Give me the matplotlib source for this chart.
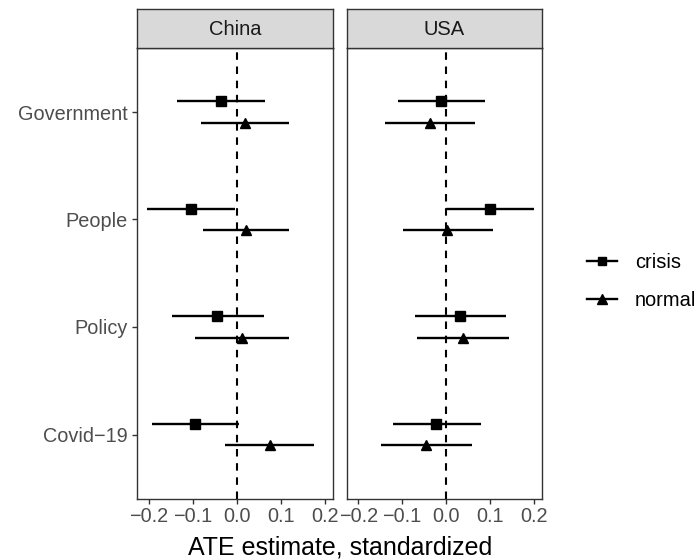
import matplotlib.pyplot as plt
from matplotlib.lines import Line2D

plt.rcParams['font.family'] = ['Liberation Sans', 'DejaVu Sans']

# data
countries = ['China', 'USA']
outcomes = ['Covid\u221219', 'Policy', 'People', 'Government']  # bottom to top
groups = ['crisis', 'normal']

est = {
    ('China', 'crisis'): [-0.094, -0.045, -0.104, -0.036],
    ('China', 'normal'): [0.075, 0.011, 0.020, 0.018],
    ('USA', 'crisis'): [-0.023, 0.032, 0.101, -0.011],
    ('USA', 'normal'): [-0.045, 0.040, 0.003, -0.036],
}
lo = {
    ('China', 'crisis'): [-0.194, -0.148, -0.205, -0.136],
    ('China', 'normal'): [-0.027, -0.096, -0.077, -0.081],
    ('USA', 'crisis'): [-0.120, -0.070, 0.001, -0.109],
    ('USA', 'normal'): [-0.148, -0.067, -0.098, -0.138],
}
hi = {
    ('China', 'crisis'): [0.006, 0.063, -0.003, 0.065],
    ('China', 'normal'): [0.177, 0.118, 0.118, 0.118],
    ('USA', 'crisis'): [0.079, 0.136, 0.201, 0.090],
    ('USA', 'normal'): [0.059, 0.145, 0.107, 0.067],
}
xticks = [-0.2, -0.1, 0.0, 0.1, 0.2]
xticklabels = ['\u22120.2', '\u22120.1', '0.0', '0.1', '0.2']

markers = {'crisis': 's', 'normal': '^'}
msizes = {'crisis': 6.5, 'normal': 7.5}
offsets = {'crisis': 0.1, 'normal': -0.1}

W, H = 697, 560
fig = plt.figure(figsize=(W / 100, H / 100), dpi=100)

panels = [(137.3, 333.3), (346.7, 542.3)]
top, bottom = 47.5, 499
strip_top = 9

txt_col = '#4D4D4D'

for i, c in enumerate(countries):
    x0, x1 = panels[i]
    ax = fig.add_axes([x0 / W, 1 - bottom / H, (x1 - x0) / W, (bottom - top) / H])
    ax.axvline(0, color='black', lw=1.5, ls=(0, (3.6, 3.2)), zorder=1)
    for g in groups:
        ys = [k + 1 + offsets[g] for k in range(len(outcomes))]
        e = est[(c, g)]
        ax.hlines(ys, lo[(c, g)], hi[(c, g)], color='black', lw=1.7, zorder=2)
        ax.plot(e, ys, ls='none', marker=markers[g], ms=msizes[g],
                color='black', zorder=3)
    ax.set_xlim(-0.2265, 0.2200)
    ax.set_ylim(0.4, 4.6)
    ax.set_xticks(xticks)
    ax.set_xticklabels(xticklabels)
    ax.set_yticks(range(1, len(outcomes) + 1))
    ax.tick_params(axis='both', labelsize=14.3, colors='#333333', labelcolor=txt_col,
                   length=3.5, width=1.0, pad=2)
    ax.tick_params(axis='y', pad=3.5)
    if i == 0:
        ax.set_yticklabels(outcomes)
    else:
        ax.tick_params(axis='y', length=0, labelleft=False)
    for s in ax.spines.values():
        s.set_color('#333333')
        s.set_linewidth(1.0)

    # facet strip
    sax = fig.add_axes([x0 / W, 1 - top / H, (x1 - x0) / W, (top - strip_top) / H])
    sax.set_facecolor('#D9D9D9')
    sax.set_xticks([])
    sax.set_yticks([])
    for s in sax.spines.values():
        s.set_color('#333333')
        s.set_linewidth(1.0)
    sax.text(0.5, 0.48, c, ha='center', va='center', fontsize=14.5,
             color='#1A1A1A', transform=sax.transAxes)

fig.text(340 / W, 1 - 547 / H, 'ATE estimate, standardized', ha='center',
         va='center', fontsize=18, color='black')

handles = [Line2D([], [], color='black', lw=1.7, marker=markers[g], ms=msizes[g] - 0.5)
           for g in groups]
fig.legend(handles, groups, loc='center left', bbox_to_anchor=(569 / W, 1 - 281 / H),
           frameon=False, fontsize=14.4, handlelength=1.5, handletextpad=0.9,
           labelspacing=0.95)

fig.savefig('out.png', dpi=100)
